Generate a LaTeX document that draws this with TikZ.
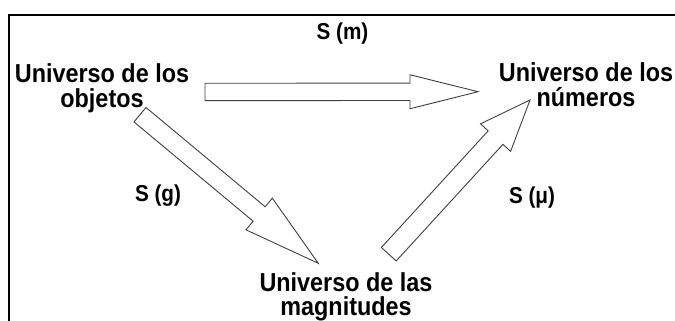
\documentclass[tikz,border=0pt]{standalone}
\usepackage{fontspec}
\setmainfont{Liberation Sans}
\newfontfamily\narrowfont[FakeStretch=0.9]{Liberation Sans}
\usetikzlibrary{calc}
\newcommand\blockarr[5]{%
  \path ($(#2)!#5!(#1)$) coordinate (hb);
  \draw[arr] ($(#1)!#3!90:(#2)$) -- ($(hb)!#3!90:(#2)$) -- ($(hb)!#4!90:(#2)$)
    -- (#2) -- ($(hb)!#4!-90:(#2)$) -- ($(hb)!#3!-90:(#2)$) -- ($(#1)!#3!-90:(#2)$) -- cycle;
}
\begin{document}
\begin{tikzpicture}[x=1pt,y=-1pt,
  lbl/.style={font=\narrowfont\bfseries\fontsize{26}{25}\selectfont, align=center, inner sep=0pt, anchor=north},
  slbl/.style={font=\narrowfont\bfseries\fontsize{23}{24}\selectfont, inner sep=0pt, anchor=base},
  arr/.style={draw=black!75, line width=0.9pt, fill=white, line join=miter},
  frame/.style={line width=2.4pt}]
\useasboundingbox (0,0) rectangle (675,321);
\draw[frame] (8.7,322) -- (8.7,15) -- (676,15);
% labels
\node[lbl] (obj) at (102,63) {Universo de los\\objetos};
\node[lbl] (num) at (586,62.7) {Universo de los\\números};
\node[lbl, font=\narrowfont\bfseries\fontsize{26}{24}\selectfont] (mag) at (346,272.2) {Universo de las\\magnitudes};
\node[slbl] (sm) at (342.5,39.3) {S (m)};
\node[slbl] (sg) at (158,201.5) {S (g)};
\node[slbl] (smu) at (532,203) {S (μ)};
% arrow end points
\coordinate (a1) at (205,92);
\coordinate (a2) at (478,91.7);
\coordinate (b1) at (140,114.7);
\coordinate (b2) at (318.3,263.3);
\coordinate (c1) at (388.8,254.2);
\coordinate (c2) at (530,100);
\blockarr{a1}{a2}{8.7pt}{17pt}{68pt}
\blockarr{b1}{b2}{9.4pt}{20.6pt}{77pt}
\blockarr{c1}{c2}{10pt}{20.4pt}{51pt}
\end{tikzpicture}
\end{document}
